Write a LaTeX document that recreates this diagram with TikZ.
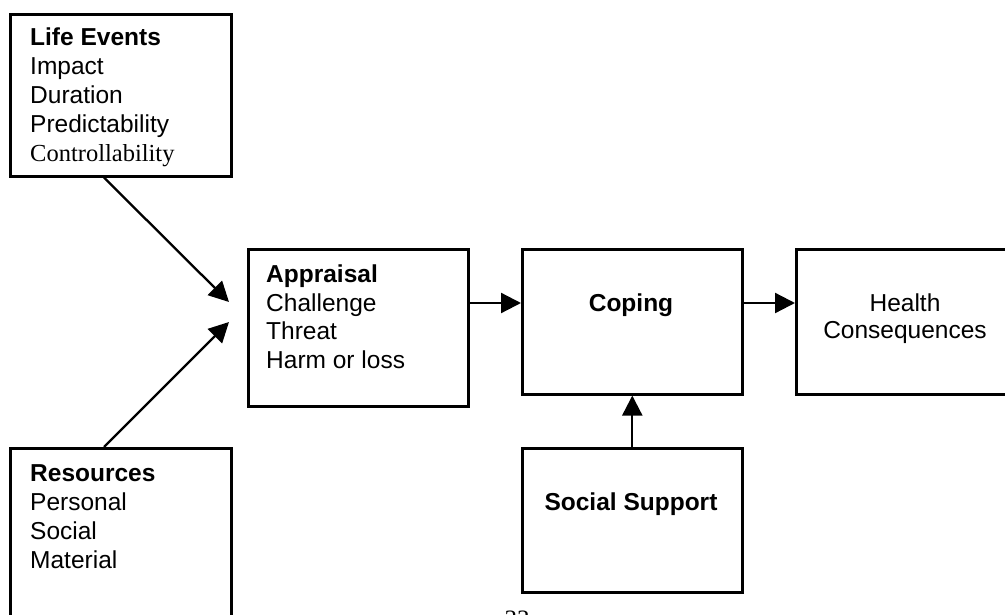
\documentclass[tikz,border=0pt]{standalone}
\usepackage{fontspec}
\setmainfont{Liberation Sans}
\newfontfamily\tmsfont{Liberation Serif}
\usetikzlibrary{arrows.meta,calc}
\tikzset{
  box/.style={draw=black, line width=2.6pt, rectangle, inner sep=0pt, anchor=north west},
  lbl/.style={inner sep=0pt, font=\fontsize{24.5}{29}\selectfont, text=black},
  arr/.style={draw=black, line width=2.3pt, -{Triangle[length=20pt,width=20pt]}}
}
\begin{document}
\begin{tikzpicture}[x=1pt,y=-1pt]
\useasboundingbox (0,0) rectangle (1005,615);
\clip (0,0) rectangle (1005,615);
\fill[white] (0,0) rectangle (1005,615);
% boxes
\node[box, minimum width=221pt, minimum height=162pt] (le) at (9,13) {};
\node[box, minimum width=221pt, minimum height=200pt] (res) at (9,447) {};
\node[box, minimum width=220pt, minimum height=157pt] (app) at (247,248) {};
\node[box, minimum width=220pt, minimum height=145pt] (cop) at (521,248) {};
\node[box, minimum width=240pt, minimum height=145pt] (hea) at (795,248) {};
\node[box, minimum width=220pt, minimum height=144pt] (soc) at (521,447) {};
% texts
\node[lbl, anchor=base west] (tle) at (30,46) {\begin{tabular}[t]{@{}l@{}}\textbf{Life Events}\\Impact\\Duration\\Predictability\\{\tmsfont Controllability}\end{tabular}};
\node[lbl, anchor=base west] (tres) at (30,481) {\begin{tabular}[t]{@{}l@{}}\textbf{Resources}\\Personal\\Social\\Material\end{tabular}};
\node[lbl, anchor=base west] (tapp) at (266,282) {\begin{tabular}[t]{@{}l@{}}\textbf{Appraisal}\\Challenge\\Threat\\Harm or loss\end{tabular}};
\node[lbl, anchor=base] (tcop) at (631,311) {\textbf{Coping}};
\node[lbl, anchor=base, font=\fontsize{24.5}{28}\selectfont] (thea) at (905,311) {\begin{tabular}[t]{@{}c@{}}Health\\Consequences\end{tabular}};
\node[lbl, anchor=base] (tsoc) at (631,510) {\textbf{Social Support}};
\node[lbl, anchor=north, font=\tmsfont\fontsize{25}{29}\selectfont] (pg) at (517,611) {33};
% connectors
\coordinate (tipA) at (229,302);
\coordinate (tipB) at (229,322);
\coordinate (row) at (0,303);
\draw[arr] ($(le.south west)!0.425!(le.south east)$) -- (tipA);
\draw[arr] ($(res.north west)!0.425!(res.north east)$) -- (tipB);
\draw[arr] (app.east |- row) -- (cop.west |- row);
\draw[arr] (cop.east |- row) -- (hea.west |- row);
\draw[arr] (soc.north) -- (cop.south);
\end{tikzpicture}
\end{document}
